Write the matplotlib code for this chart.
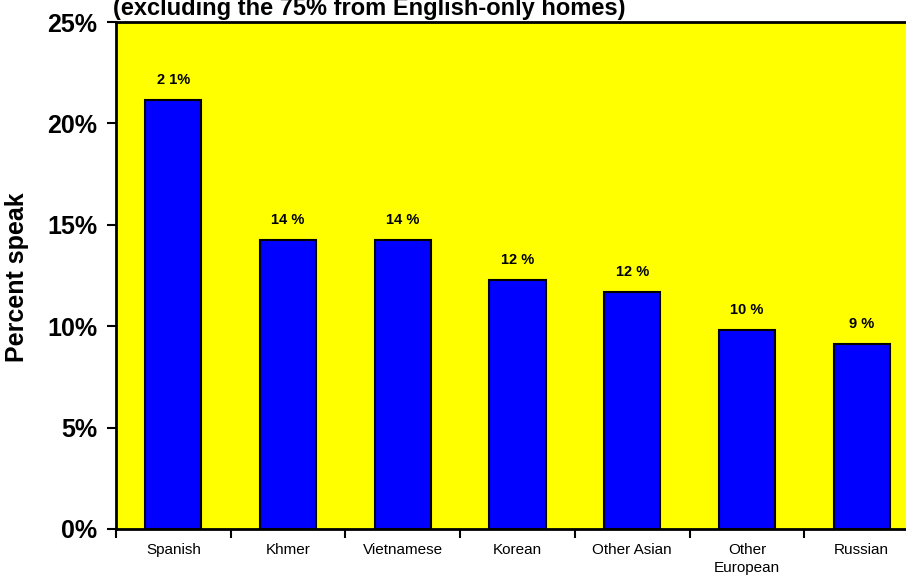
import matplotlib
matplotlib.use("Agg")
import matplotlib.pyplot as plt
import numpy as np

categories = ["Spanish", "Khmer", "Vietnamese", "Korean", "Other Asian", "Other\nEuropean", "Russian"]
values = [21.15, 14.25, 14.25, 12.28, 11.69, 9.81, 9.12]
bar_labels = ["2 1%", "14 %", "14 %", "12 %", "12 %", "10 %", "9 %"]
yticks = [0, 5, 10, 15, 20, 25]
ytick_labels = ["0%", "5%", "10%", "15%", "20%", "25%"]
title = "(excluding the 75% from English-only homes)"
ylabel = "Percent speak"

plt.rcParams['font.family'] = ['Liberation Sans', 'DejaVu Sans']

W, H = 906, 581
fig = plt.figure(figsize=(W/100, H/100), dpi=100)
fig.patch.set_facecolor('white')
left, right, top, bottom = 116, 919, 22, 529
ax = fig.add_axes([left/W, 1 - bottom/H, (right-left)/W, (bottom-top)/H])
ax.set_facecolor('#FFFF00')

x = np.arange(len(categories))
bars = ax.bar(x, values, width=0.49, color='#0000FF', edgecolor='black', linewidth=1.5, zorder=3)
for xi, v, lab in zip(x, values, bar_labels):
    ax.annotate(lab, (xi, v), xytext=(0, 14.4), textcoords='offset points',
                ha='center', va='center', fontsize=10.5, fontweight='bold')

ax.set_xlim(-0.5, len(categories) - 0.5)
ax.set_ylim(0, 25)
ax.set_yticks(yticks)
ax.set_yticklabels(ytick_labels, fontsize=18, fontweight='bold')
ax.set_xticks(x)
ax.set_xticklabels(categories, fontsize=11, linespacing=1.4, va='top')
ax.set_xticks(np.arange(len(categories) + 1) - 0.5, minor=True)
ax.tick_params(axis='x', which='major', length=0, pad=10)
ax.tick_params(axis='x', which='minor', length=6.5, width=1.5, direction='out')
ax.tick_params(axis='y', which='major', length=6.5, width=1.5, direction='out', pad=7)
for s in ax.spines.values():
    s.set_linewidth(2)
    s.set_zorder(5)

fig.text(17/W, 1 - 277/H, ylabel, fontsize=18, fontweight='bold', rotation=90,
         ha='center', va='center')
fig.text(113/W, 1 - 15/H, title, fontsize=17, fontweight='bold', ha='left', va='baseline')

fig.savefig("out.png", dpi=100)
